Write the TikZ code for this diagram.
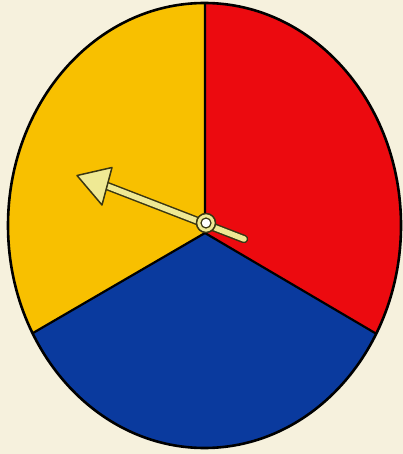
\documentclass[tikz,border=0pt]{standalone}
\definecolor{bg}{HTML}{F6F1DD}
\definecolor{syellow}{HTML}{F8C000}
\definecolor{sred}{HTML}{EC0A0F}
\definecolor{sblue}{HTML}{0A3A9E}
\definecolor{pale}{HTML}{EFE994}
\definecolor{olive}{HTML}{3A3612}
\begin{document}
\begin{tikzpicture}[x=1pt,y=-1pt,
  edge/.style={draw=black,line width=2.2pt},
  pointer/.style={fill=pale,draw=olive,line width=1.5pt,line join=round}]
\useasboundingbox (0,0) rectangle (403,454);
\fill[bg] (0,0) rectangle (403,454);
\coordinate (C) at (204.5,225.5);
\coordinate (H) at (205,233);
\coordinate (T) at (205,-20);
\coordinate (L) at (-139,433);
\coordinate (R) at (545,433);
\begin{scope}
  \clip (C) ellipse [x radius=196.5, y radius=222.5];
  \fill[syellow] (T) -- (H) -- (L) -- (-20,-20) -- cycle;
  \fill[sred] (T) -- (H) -- (R) -- (420,-20) -- cycle;
  \fill[sblue] (L) -- (H) -- (R) -- (545,470) -- (-139,470) -- cycle;
  \draw[edge] (T) -- (H) -- (L);
  \draw[edge] (H) -- (R);
\end{scope}
\draw[edge,line width=2.6pt] (C) ellipse [x radius=196.5, y radius=222.5];
% pointer
\coordinate (P) at (206,223);
\coordinate (tip) at (77,175.5);
\coordinate (b1) at (112,167.5);
\coordinate (b2) at (102,205);
\coordinate (mb) at (107,186);
\coordinate (tail) at (244,239);
\draw[olive,line width=8.5pt,line cap=round] (mb) -- (tail);
\draw[pale,line width=5.5pt,line cap=round] (mb) -- (tail);
\draw[pointer] (tip) -- (b1) -- (b2) -- cycle;
\draw[pointer] (P) circle (9.5);
\draw[fill=white,draw=olive,line width=1.2pt] (P) circle (5);
\end{tikzpicture}
\end{document}
